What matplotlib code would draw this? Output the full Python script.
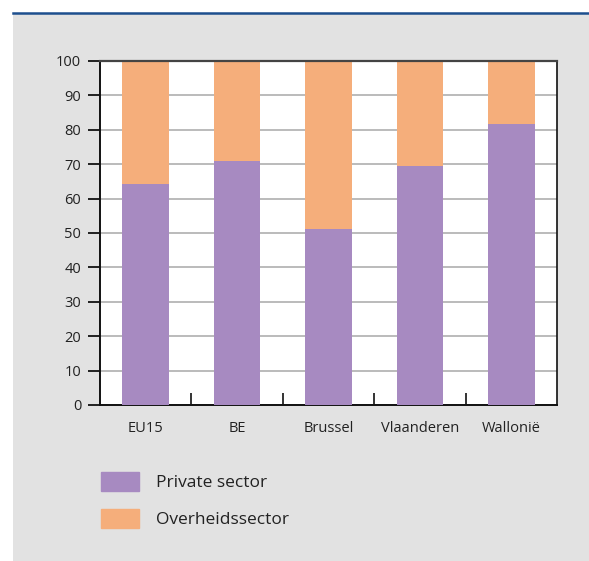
import numpy as np
import matplotlib
matplotlib.use("Agg")
import matplotlib.pyplot as plt
from matplotlib.patches import Rectangle, Patch
from matplotlib.lines import Line2D

# Gegevens (aandeel in %)
regio = ["EU15", "BE", "Brussel", "Vlaanderen", "Wallonië"]
privaat = [64.2, 70.9, 51.2, 69.5, 81.7]
overheid = [100 - p for p in privaat]
yticks = [0, 10, 20, 30, 40, 50, 60, 70, 80, 90, 100]

kleur_privaat = "#a78ac1"
kleur_overheid = "#f5ae7b"

plt.rcParams["font.family"] = ["Open Sans", "DejaVu Sans"]

W, H = 589, 561
fig = plt.figure(figsize=(W / 100, H / 100), dpi=100, facecolor="white")

# grijs kader met blauwe lijn bovenaan
fig.patches.append(Rectangle((13 / W, 0), 1 - 13 / W, 1 - 14 / H,
                             transform=fig.transFigure, facecolor="#e2e2e2",
                             edgecolor="none", zorder=-10))
fig.lines.append(Line2D([13 / W, 1], [1 - 13 / H, 1 - 13 / H],
                        transform=fig.transFigure, color="#1d4f8e", lw=1.8,
                        zorder=-5))

ax = fig.add_axes([100 / W, 1 - 405 / H, 457 / W, 344 / H])
ax.set_facecolor("white")

x = np.arange(len(regio))
ax.bar(x, privaat, width=0.51, color=kleur_privaat, zorder=3)
ax.bar(x, overheid, bottom=privaat, width=0.51, color=kleur_overheid, zorder=3)

ax.set_xlim(-0.5, len(regio) - 0.5)
ax.set_ylim(0, 100)
ax.set_yticks(yticks)
ax.set_xticks(x)
ax.set_xticklabels(regio)
ax.set_xticks([0.5, 1.5, 2.5, 3.5], minor=True)

ax.yaxis.grid(True, color="#b5b5b5", lw=1.3, zorder=1)
ax.tick_params(axis="y", direction="out", length=8.5, width=1.3, pad=5,
               labelsize=10.5, colors="#111111", labelcolor="#222222")
ax.tick_params(axis="x", which="major", length=0, pad=11.5, labelsize=10.5,
               labelcolor="#222222")
ax.tick_params(axis="x", which="minor", direction="in", length=8.5, width=1.2,
               color="#111111")

for s in ["left", "bottom"]:
    ax.spines[s].set_linewidth(1.4)
    ax.spines[s].set_color("#111111")
ax.spines["top"].set_linewidth(1.6)
ax.spines["top"].set_color("#444444")
ax.spines["right"].set_linewidth(1.2)
ax.spines["right"].set_color("#111111")
ax.spines["top"].set_zorder(4)

handles = [Patch(color=kleur_privaat, label="Private sector"),
           Patch(color=kleur_overheid, label="Overheidssector")]
fig.legend(handles=handles, loc="upper left",
           bbox_to_anchor=(101 / W, 1 - 472 / H), frameon=False,
           fontsize=12.5, handlelength=2.2, handleheight=1.3,
           handletextpad=0.95, labelspacing=1.03, borderpad=0,
           borderaxespad=0, labelcolor="#222222")

fig.savefig("out.png", dpi=100, facecolor="white")
